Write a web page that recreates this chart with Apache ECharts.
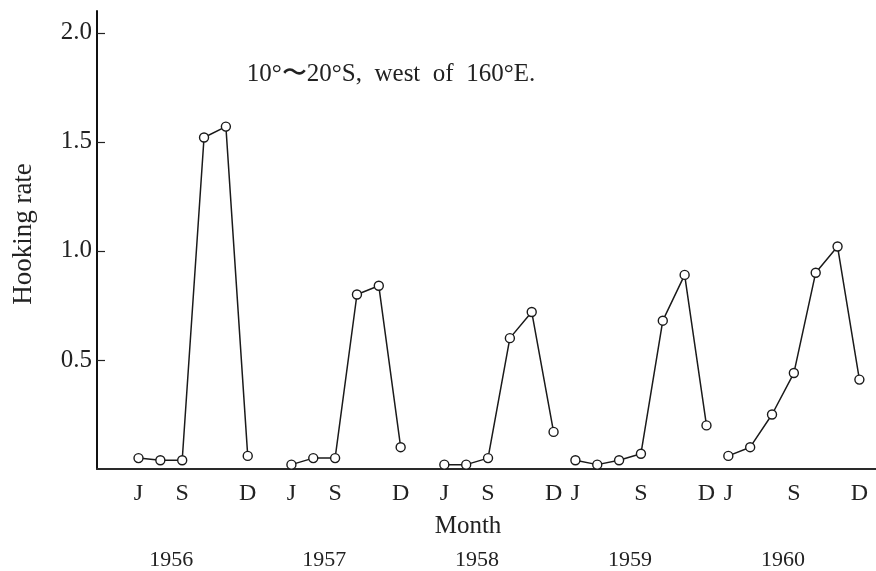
<!DOCTYPE html>
<html>
<head>
<meta charset="utf-8">
<script src="https://cdn.jsdelivr.net/npm/echarts@6/dist/echarts.min.js"></script>
<style>
  html, body { margin: 0; padding: 0; background: #fff; }
  #chart { width: 876px; height: 571px; }
</style>
</head>
<body>
<div id="chart"></div>
<script>
// Compressed month timeline: only the fishing months of each year are kept,
// with a blank slot where a season break is drawn wider.
const slots = [
  '1956-07', '1956-08', '1956-09', '1956-10', '1956-11', '1956-12', '',
  '1957-07', '1957-08', '1957-09', '1957-10', '1957-11', '1957-12', '',
  '1958-07', '1958-08', '1958-09', '1958-10', '1958-11', '1958-12',
  '1959-06', '1959-07', '1959-08', '1959-09', '1959-10', '1959-11', '1959-12',
  '1960-06', '1960-07', '1960-08', '1960-09', '1960-10', '1960-11', '1960-12'
];

const years = ['1956', '1957', '1958', '1959', '1960'];

// Hooking rate by month, first listed month through December
const rate1956 = [0.05, 0.04, 0.04, 1.52, 1.57, 0.06];        // Jul-Dec
const rate1957 = [0.02, 0.05, 0.05, 0.80, 0.84, 0.10];        // Jul-Dec
const rate1958 = [0.02, 0.02, 0.05, 0.60, 0.72, 0.17];        // Jul-Dec
const rate1959 = [0.04, 0.02, 0.04, 0.07, 0.68, 0.89, 0.20];  // Jun-Dec
const rate1960 = [0.06, 0.10, 0.25, 0.44, 0.90, 1.02, 0.41];  // Jun-Dec
const ratesByYear = [rate1956, rate1957, rate1958, rate1959, rate1960];

const yTicks = [0.5, 1.0, 1.5, 2.0];

const monthLetter = { '06': 'J', '07': 'J', '09': 'S', '12': 'D' };

// Slot indices that carry a month letter: first month of each season, Sep, Dec
const firstSlotOf = y => slots.findIndex(t => t.startsWith(y));
const monthTickIdx = [];
slots.forEach((s, i) => {
  if (!s) return;
  const [y, m] = s.split('-');
  if (i === firstSlotOf(y) || m === '09' || m === '12') monthTickIdx.push(i);
});
const monthLabelOf = i => {
  if (!slots[i]) return '';
  const [y, m] = slots[i].split('-');
  return i === firstSlotOf(y) ? 'J' : (monthLetter[m] || '');
};

// Year captions sit between the August and September slots
const yearPos = years.map(y => slots.indexOf(y + '-08') + 0.5);

const series = years.map((y, k) => {
  const start = firstSlotOf(y);
  return {
    name: y,
    type: 'line',
    data: ratesByYear[k].map((v, j) => [start + j, v]),
    symbol: 'circle',
    symbolSize: 9,
    showAllSymbol: true,
    lineStyle: { color: '#1a1a1a', width: 1.5 },
    itemStyle: { color: '#fff', borderColor: '#1a1a1a', borderWidth: 1.4 },
    emphasis: { disabled: true },
    z: 3
  };
});

const serif = '"Liberation Serif", "DejaVu Serif", serif';
const xMin = -1.9, xMax = 33.76;

const chart = echarts.init(document.getElementById('chart'), null, { renderer: 'canvas' });
chart.setOption({
  animation: false,
  backgroundColor: '#fff',
  grid: { left: 97, right: 0, top: 11, bottom: 101 },
  xAxis: [
    {
      type: 'value', min: xMin, max: xMax,
      axisLine: { show: true, onZero: false, lineStyle: { color: '#2a2a2a', width: 2 } },
      axisTick: { show: false },
      splitLine: { show: false },
      axisLabel: {
        customValues: monthTickIdx,
        formatter: v => monthLabelOf(Math.round(v)),
        color: '#222', fontFamily: serif, fontSize: 24, margin: 13
      }
    },
    {
      type: 'value', min: xMin, max: xMax, position: 'bottom',
      axisLine: { show: false, onZero: false }, axisTick: { show: false }, splitLine: { show: false },
      axisLabel: {
        customValues: yearPos,
        formatter: v => years[yearPos.indexOf(v)] || '',
        color: '#222', fontFamily: serif, fontSize: 22, margin: 80
      }
    }
  ],
  yAxis: {
    type: 'value', min: 0, max: 2.1,
    axisLine: { show: true, onZero: false, lineStyle: { color: '#111', width: 2 } },
    axisTick: { show: true, inside: true, length: 8, customValues: yTicks, lineStyle: { color: '#222', width: 1.2 } },
    splitLine: { show: false },
    axisLabel: {
      customValues: yTicks,
      formatter: v => v.toFixed(1),
      color: '#222', fontFamily: serif, fontSize: 25, margin: 5
    }
  },
  series: series,
  graphic: [
    {
      type: 'text', x: 391, y: 74,
      style: { text: '10°〜20°S,  west  of  160°E.', font: '25px ' + serif, fill: '#222', textAlign: 'center', textVerticalAlign: 'middle' }
    },
    {
      type: 'text', x: 468, y: 526,
      style: { text: 'Month', font: '25px ' + serif, fill: '#222', textAlign: 'center', textVerticalAlign: 'middle' }
    },
    {
      type: 'text', x: 24, y: 234, rotation: Math.PI / 2,
      style: { text: 'Hooking rate', font: '27px ' + serif, fill: '#222', textAlign: 'center', textVerticalAlign: 'middle' }
    }
  ]
});
</script>
</body>
</html>
